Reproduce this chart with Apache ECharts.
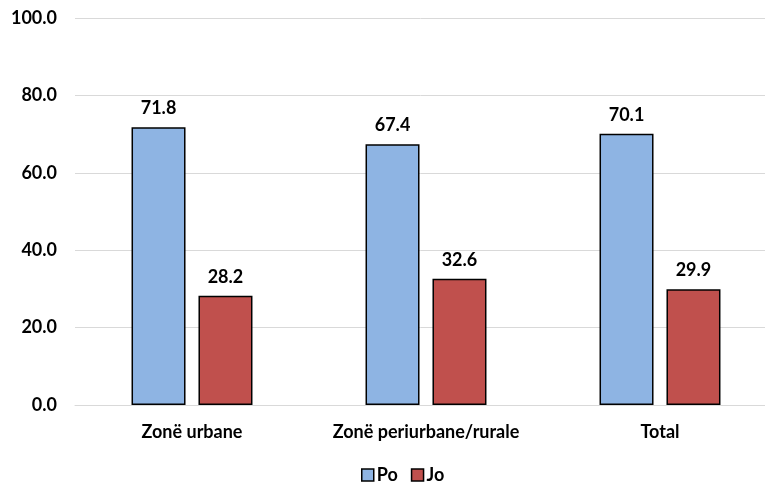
<!DOCTYPE html>
<html><head><meta charset="utf-8">
<script src="https://cdn.jsdelivr.net/npm/echarts@6/dist/echarts.min.js"></script>
<style>html,body{margin:0;padding:0;background:#fff}#c{width:765px;height:483px}</style>
</head><body><div id="c"></div>
<script>
const categories = ["Zonë urbane", "Zonë periurbane/rurale", "Total"];
const poValues = [71.8, 67.4, 70.1];
const joValues = [28.2, 32.6, 29.9];
const seriesNames = ["Po", "Jo"];

const chart = echarts.init(document.getElementById('c'));
const font = 'Lato';
const labelStyle = {show: true, position: 'top', distance: 10, fontFamily: font, fontWeight: 'bold', fontSize: 18, color: '#000', formatter: p => p.value.toFixed(1)};
chart.setOption({
  animation: false,
  grid: {left: 75, width: 702, top: 18, height: 387, outerBoundsMode: 'none', containLabel: false},
  legend: {top: 466, left: 361, padding: 0, itemWidth: 12, itemHeight: 12, itemGap: 13,
    textStyle: {fontFamily: font, fontWeight: 'bold', fontSize: 18, color: '#000', padding: [0, 0, 0, -2]},
    itemStyle: {borderColor: '#000', borderWidth: 1.5},
    data: seriesNames.map(n => ({name: n, icon: 'rect'}))},
  xAxis: {type: 'category', data: categories,
    axisLine: {lineStyle: {color: '#d9d9d9', width: 1}}, axisTick: {show: false},
    axisLabel: {interval: 0, hideOverlap: false, fontFamily: font, fontWeight: 'bold', fontSize: 18, color: '#000', margin: 18}},
  yAxis: {type: 'value', min: 0, max: 100, interval: 20,
    axisLine: {show: false}, axisTick: {show: false},
    splitLine: {lineStyle: {color: '#d9d9d9', width: 1}},
    axisLabel: {fontFamily: font, fontWeight: 'bold', fontSize: 18, color: '#000', margin: 18, formatter: v => v.toFixed(1)}},
  series: [
    {name: seriesNames[0], type: 'bar', data: poValues, barWidth: 54, barGap: '24%',
     itemStyle: {color: '#8EB4E3', borderColor: '#000', borderWidth: 1.5}, label: labelStyle},
    {name: seriesNames[1], type: 'bar', data: joValues, barWidth: 54,
     itemStyle: {color: '#C0504D', borderColor: '#000', borderWidth: 1.5}, label: labelStyle}
  ]
});
</script></body></html>
